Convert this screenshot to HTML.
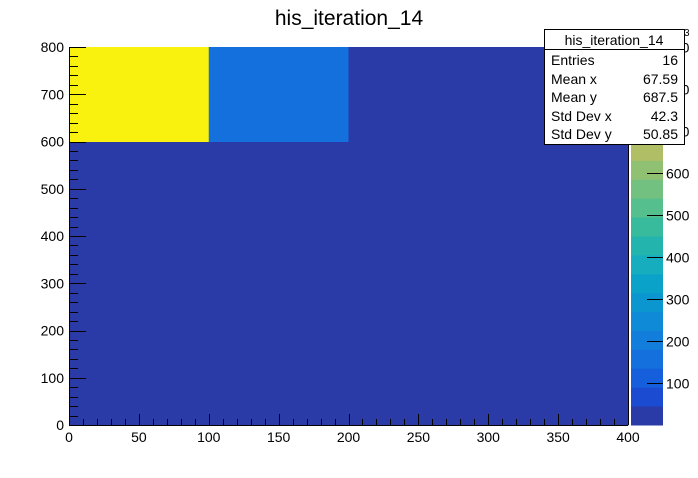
<!DOCTYPE html>
<html><head><meta charset="utf-8"><style>
body{margin:0;background:#fff;}
svg text{font-family:"Liberation Sans",sans-serif;}
</style></head><body>
<svg id="c" width="698" height="473" xmlns="http://www.w3.org/2000/svg">
<rect width="698" height="473" fill="#fff"/>
<text x="349" y="25" font-size="21" text-anchor="middle">his_iteration_14</text>
<g id="cells"></g>
<g id="axes"></g>
<g id="pal"></g>
<g>
<rect x="544.5" y="29.5" width="140" height="115" fill="#fff" stroke="#000"/>
<line x1="544.5" y1="49.5" x2="684.5" y2="49.5" stroke="#000"/>
<text x="614" y="45" font-size="14" text-anchor="middle">his_iteration_14</text>
<g font-size="14">
<text x="551" y="65">Entries</text><text x="678" y="65" text-anchor="end">16</text>
<text x="551" y="84">Mean x</text><text x="678" y="84" text-anchor="end">67.59</text>
<text x="551" y="102">Mean y</text><text x="678" y="102" text-anchor="end">687.5</text>
<text x="551" y="121">Std Dev x</text><text x="678" y="121" text-anchor="end">42.3</text>
<text x="551" y="139">Std Dev y</text><text x="678" y="139" text-anchor="end">50.85</text>
</g></g>
</svg>
<script>
const xEdges=[0,100,200,300,400];
const yEdges=[0,200,400,600,800];
// values[row from bottom][col]
const values=[[5,5,5,5],[5,5,5,5],[5,5,5,5],[890,160,5,5]];
const xTicks=[0,50,100,150,200,250,300,350,400];
const yTicks=[0,100,200,300,400,500,600,700,800];
const zTicks=[100,200,300,400,500,600,700,800,900];
const palColors=["#2a3aa6","#1a4bd0","#155fdc","#1470dc","#127ddb","#0f8ad6","#0b96d0","#0ba2c9","#16adbf","#24b4ae","#38ba9c","#55bf8e","#72c180","#90c173","#b0be66","#d2bb58","#e4bd48","#f0c53a","#f7d828","#f9f20f"];
const zMax=900;
const X0=69,X1=628,Y0=425,Y1=47;
const sx=v=>X0+(v-0)/400*(X1-X0);
const sy=v=>Y0-(v-0)/800*(Y0-Y1);
const NS="http://www.w3.org/2000/svg";
function mk(t,a,p){const e=document.createElementNS(NS,t);for(const k in a)e.setAttribute(k,a[k]);p.appendChild(e);return e;}
const cells=document.getElementById('cells');
for(let r=0;r<values.length;r++)for(let c=0;c<values[r].length;c++){
 const v=values[r][c];const idx=Math.min(19,Math.floor(v/zMax*20));
 const e=mk('rect',{x:sx(xEdges[c]),y:sy(yEdges[r+1]),width:sx(xEdges[c+1])-sx(xEdges[c])+0.5,height:sy(yEdges[r])-sy(yEdges[r+1])+0.5,fill:palColors[idx]},cells);
 
 
}
const ax=document.getElementById('axes');
mk('line',{x1:X0,y1:Y0+0.5,x2:X1,y2:Y0+0.5,stroke:'#000'},ax);
mk('line',{x1:X0+0.5,y1:Y0,x2:X0+0.5,y2:Y1,stroke:'#000'},ax);
mk('line',{x1:X1+0.5,y1:Y0,x2:X1+0.5,y2:Y1,stroke:'#000'},ax);
for(let v=0;v<=400;v+=10){const x=Math.round(sx(v))+0.5;const L=v%50===0?11:6;mk('line',{x1:x,y1:Y0,x2:x,y2:Y0-L,stroke:'#000'},ax);}
for(let v=0;v<=800;v+=20){const y=Math.round(sy(v))+0.5;const L=v%100===0?17:9;mk('line',{x1:X0,y1:y,x2:X0+L,y2:y,stroke:'#000'},ax);}
xTicks.forEach(v=>{const t=mk('text',{x:sx(v),y:442,'font-size':14,'text-anchor':'middle'},ax);t.textContent=v;

});
yTicks.forEach(v=>{const t=mk('text',{x:64,y:sy(v)+5,'font-size':14,'text-anchor':'end'},ax);t.textContent=v;

});
const pal=document.getElementById('pal');
const PX0=631,PX1=663;const pz=v=>Y0-v/zMax*(Y0-Y1);
palColors.forEach((col,i)=>{const e=mk('rect',{x:PX0,y:pz((i+1)*zMax/20),width:PX1-PX0,height:pz(i*zMax/20)-pz((i+1)*zMax/20)+0.5,fill:col},pal);

});
zTicks.forEach(v=>{const y=Math.round(pz(v))+0.5;mk('line',{x1:PX1,y1:y,x2:PX1-16,y2:y,stroke:'#000'},pal);
const t=mk('text',{x:666,y:y+5,'font-size':14},pal);t.textContent=v;

});
const e3=mk('text',{x:684,y:36,'font-size':10},pal);e3.textContent='3';
</script>
</body></html>
